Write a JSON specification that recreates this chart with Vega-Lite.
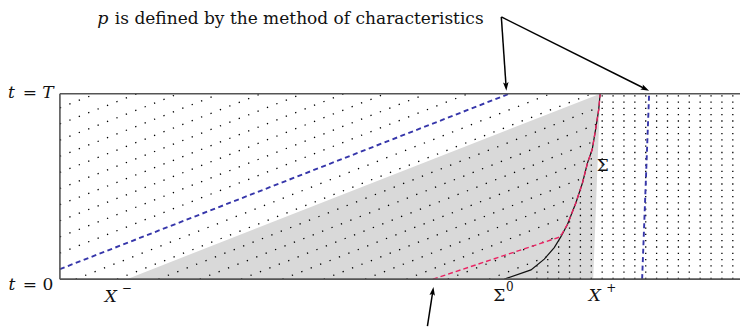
{
  "$schema": "https://vega.github.io/schema/vega-lite/v6.json",
  "width": 741,
  "height": 327,
  "autosize": {"type": "fit", "contains": "padding"},
  "padding": 0,
  "background": "white",
  "config": {"view": {"stroke": null}, "text": {"font": "DejaVu Serif"}},
  "datasets": {
    "gray": [
      {"x": 67, "t": 0, "t2": 0},
      {"x": 534, "t": 0.985, "t2": 0},
      {"x": 541, "t": 1, "t2": 1}
    ],
    "chars": [
      {"x": 0, "t": 0.924, "x2": 36, "t2": 1},
      {"x": 0, "t": 0.837, "x2": 77.4, "t2": 1},
      {"x": 0, "t": 0.75, "x2": 118.8, "t2": 1},
      {"x": 0, "t": 0.663, "x2": 160.2, "t2": 1},
      {"x": 0, "t": 0.576, "x2": 201.6, "t2": 1},
      {"x": 0, "t": 0.489, "x2": 243, "t2": 1},
      {"x": 0, "t": 0.402, "x2": 284.4, "t2": 1},
      {"x": 0, "t": 0.315, "x2": 325.8, "t2": 1},
      {"x": 0, "t": 0.228, "x2": 367.2, "t2": 1},
      {"x": 0, "t": 0.141, "x2": 408.6, "t2": 1},
      {"x": 15.8, "t": 0, "x2": 491.4, "t2": 1},
      {"x": 57.2, "t": 0, "x2": 532.8, "t2": 1},
      {"x": 98.6, "t": 0, "x2": 539.8, "t2": 0.927},
      {"x": 140, "t": 0, "x2": 537.2, "t2": 0.835},
      {"x": 181.4, "t": 0, "x2": 534.3, "t2": 0.742},
      {"x": 222.8, "t": 0, "x2": 529.4, "t2": 0.645},
      {"x": 264.2, "t": 0, "x2": 524.6, "t2": 0.547},
      {"x": 305.6, "t": 0, "x2": 518.9, "t2": 0.448},
      {"x": 347, "t": 0, "x2": 512, "t2": 0.347},
      {"x": 388.4, "t": 0, "x2": 502.8, "t2": 0.24},
      {"x": 429.8, "t": 0, "x2": 487.1, "t2": 0.12}
    ],
    "verts": [
      {"x": 477.6, "t": 0, "t2": 0.075},
      {"x": 488.5, "t": 0, "t2": 0.13},
      {"x": 499.4, "t": 0, "t2": 0.209},
      {"x": 510.3, "t": 0, "t2": 0.324},
      {"x": 521.2, "t": 0, "t2": 0.485},
      {"x": 532.1, "t": 0, "t2": 0.685},
      {"x": 543, "t": 0, "t2": 1},
      {"x": 553.9, "t": 0, "t2": 1},
      {"x": 564.8, "t": 0, "t2": 1},
      {"x": 575.7, "t": 0, "t2": 1},
      {"x": 586.6, "t": 0, "t2": 1},
      {"x": 597.5, "t": 0, "t2": 1},
      {"x": 608.4, "t": 0, "t2": 1},
      {"x": 619.3, "t": 0, "t2": 1},
      {"x": 630.2, "t": 0, "t2": 1},
      {"x": 641.1, "t": 0, "t2": 1},
      {"x": 652, "t": 0, "t2": 1},
      {"x": 662.9, "t": 0, "t2": 1},
      {"x": 673.8, "t": 0, "t2": 1}
    ],
    "blue": [
      {"x": 0, "t": 0.054, "x2": 450, "t2": 1},
      {"x": 583, "t": 0, "x2": 590, "t2": 1}
    ],
    "sigma": [
      {"x": 445, "t": 0},
      {"x": 471.7, "t": 0.05},
      {"x": 485, "t": 0.108},
      {"x": 495, "t": 0.17},
      {"x": 501.7, "t": 0.229},
      {"x": 508.3, "t": 0.296},
      {"x": 516.7, "t": 0.412},
      {"x": 523.3, "t": 0.52},
      {"x": 528.3, "t": 0.627},
      {"x": 533, "t": 0.699},
      {"x": 536.7, "t": 0.817},
      {"x": 539.5, "t": 0.914},
      {"x": 541, "t": 1}
    ],
    "red": [
      {"x": 373.5, "t": 0},
      {"x": 501, "t": 0.228},
      {"x": 508.3, "t": 0.296},
      {"x": 516.7, "t": 0.412},
      {"x": 523.3, "t": 0.52},
      {"x": 528.3, "t": 0.627},
      {"x": 533, "t": 0.699},
      {"x": 536.7, "t": 0.817},
      {"x": 539.5, "t": 0.914},
      {"x": 541, "t": 1}
    ],
    "frame": [
      {"x": 0, "t": 1, "x2": 681, "t2": 1},
      {"x": 0, "t": 0, "x2": 681, "t2": 0},
      {"x": 0, "t": 0, "x2": 0, "t2": 1}
    ],
    "arrows": [
      {"id": "a1", "x": 442, "t": 1.414, "x2": 446.7, "t2": 1.043},
      {"id": "a2", "x": 442, "t": 1.414, "x2": 585.5, "t2": 1.028},
      {"id": "a3", "x": 368, "t": -0.253, "x2": 373.3, "t2": -0.069}
    ],
    "italic": [
      {"label": "t", "x": -48.5, "t": 0.978},
      {"label": "T", "x": -12, "t": 0.978},
      {"label": "t", "x": -48, "t": -0.059},
      {"label": "X", "x": 51, "t": -0.124},
      {"label": "X", "x": 535.5, "t": -0.12}
    ],
    "roman": [
      {"label": "=", "x": -30, "t": 0.978},
      {"label": "=", "x": -30, "t": -0.059},
      {"label": "0", "x": -12, "t": -0.059},
      {"label": "Σ", "x": 440, "t": -0.118},
      {"label": "Σ", "x": 543.5, "t": 0.581}
    ],
    "sup": [
      {"label": "−", "x": 67, "t": -0.07},
      {"label": "0", "x": 450.5, "t": -0.065},
      {"label": "+", "x": 552, "t": -0.07}
    ],
    "note": [
      {"label": "p", "x": 43, "t": 1.376, "part": "math"},
      {"label": "is defined by the method of characteristics", "x": 55, "t": 1.376, "part": "text"}
    ]
  },
  "encoding": {
    "x": {"field": "x", "type": "quantitative", "scale": {"domain": [-60, 681], "nice": false, "zero": false}, "axis": null},
    "y": {"field": "t", "type": "quantitative", "scale": {"domain": [-0.2527, 1.5054], "nice": false, "zero": false}, "axis": null}
  },
  "layer": [
    {
      "data": {"name": "gray"},
      "mark": {"type": "area", "color": "#d9d9d9", "interpolate": "linear"},
      "encoding": {"y2": {"field": "t2"}}
    },
    {
      "data": {"name": "chars"},
      "mark": {"type": "rule", "color": "#000000", "strokeWidth": 1.3, "strokeDash": [1.3, 8.8], "strokeCap": "butt"},
      "encoding": {"x2": {"field": "x2"}, "y2": {"field": "t2"}}
    },
    {
      "data": {"name": "verts"},
      "mark": {"type": "rule", "color": "#000000", "strokeWidth": 1.3, "strokeDash": [1.3, 5], "strokeCap": "butt"},
      "encoding": {"y2": {"field": "t2"}}
    },
    {
      "data": {"name": "blue"},
      "mark": {"type": "rule", "color": "#3636aa", "strokeWidth": 1.9, "strokeDash": [5, 3.5]},
      "encoding": {"x2": {"field": "x2"}, "y2": {"field": "t2"}}
    },
    {
      "data": {"name": "sigma"},
      "mark": {"type": "line", "color": "#111111", "strokeWidth": 1.2},
      "encoding": {}
    },
    {
      "data": {"name": "red"},
      "mark": {"type": "line", "color": "#ea2262", "strokeWidth": 1.4, "strokeDash": [5, 3]},
      "encoding": {}
    },
    {
      "data": {"name": "frame"},
      "mark": {"type": "rule", "color": "#555555", "strokeWidth": 1.6},
      "encoding": {"x2": {"field": "x2"}, "y2": {"field": "t2"}}
    },
    {
      "data": {"name": "arrows"},
      "mark": {"type": "rule", "color": "#000000", "strokeWidth": 1.5},
      "encoding": {"x2": {"field": "x2"}, "y2": {"field": "t2"}}
    },
    {
      "data": {"name": "arrows"},
      "transform": [{"filter": "datum.id == 'a1'"}],
      "mark": {"type": "point", "shape": "M0,-1L0.55,0.7L0,0.35L-0.55,0.7Z", "filled": true, "color": "#000000", "opacity": 1, "size": 100, "angle": 176.2, "strokeWidth": 0},
      "encoding": {"x": {"field": "x2", "type": "quantitative"}, "y": {"field": "t2", "type": "quantitative"}}
    },
    {
      "data": {"name": "arrows"},
      "transform": [{"filter": "datum.id == 'a2'"}],
      "mark": {"type": "point", "shape": "M0,-1L0.55,0.7L0,0.35L-0.55,0.7Z", "filled": true, "color": "#000000", "opacity": 1, "size": 100, "angle": 116.6, "strokeWidth": 0},
      "encoding": {"x": {"field": "x2", "type": "quantitative"}, "y": {"field": "t2", "type": "quantitative"}}
    },
    {
      "data": {"name": "arrows"},
      "transform": [{"filter": "datum.id == 'a3'"}],
      "mark": {"type": "point", "shape": "M0,-1L0.55,0.7L0,0.35L-0.55,0.7Z", "filled": true, "color": "#000000", "opacity": 1, "size": 100, "angle": 8.5, "strokeWidth": 0},
      "encoding": {"x": {"field": "x2", "type": "quantitative"}, "y": {"field": "t2", "type": "quantitative"}}
    },
    {
      "data": {"name": "italic"},
      "mark": {"type": "text", "font": "DejaVu Serif", "fontStyle": "italic", "fontSize": 17, "align": "center", "baseline": "alphabetic", "color": "#111111"},
      "encoding": {"text": {"field": "label"}}
    },
    {
      "data": {"name": "roman"},
      "mark": {"type": "text", "font": "DejaVu Serif", "fontSize": 17, "align": "center", "baseline": "alphabetic", "color": "#111111"},
      "encoding": {"text": {"field": "label"}}
    },
    {
      "data": {"name": "sup"},
      "mark": {"type": "text", "font": "DejaVu Serif", "fontSize": 12, "align": "center", "baseline": "alphabetic", "color": "#111111"},
      "encoding": {"text": {"field": "label"}}
    },
    {
      "data": {"name": "note"},
      "transform": [{"filter": "datum.part == 'math'"}],
      "mark": {"type": "text", "font": "DejaVu Serif", "fontStyle": "italic", "fontSize": 17.5, "align": "center", "baseline": "alphabetic", "color": "#111111"},
      "encoding": {"text": {"field": "label"}}
    },
    {
      "data": {"name": "note"},
      "transform": [{"filter": "datum.part == 'text'"}],
      "mark": {"type": "text", "font": "DejaVu Serif", "fontSize": 17, "align": "left", "baseline": "alphabetic", "color": "#111111"},
      "encoding": {"text": {"field": "label"}}
    }
  ]
}
